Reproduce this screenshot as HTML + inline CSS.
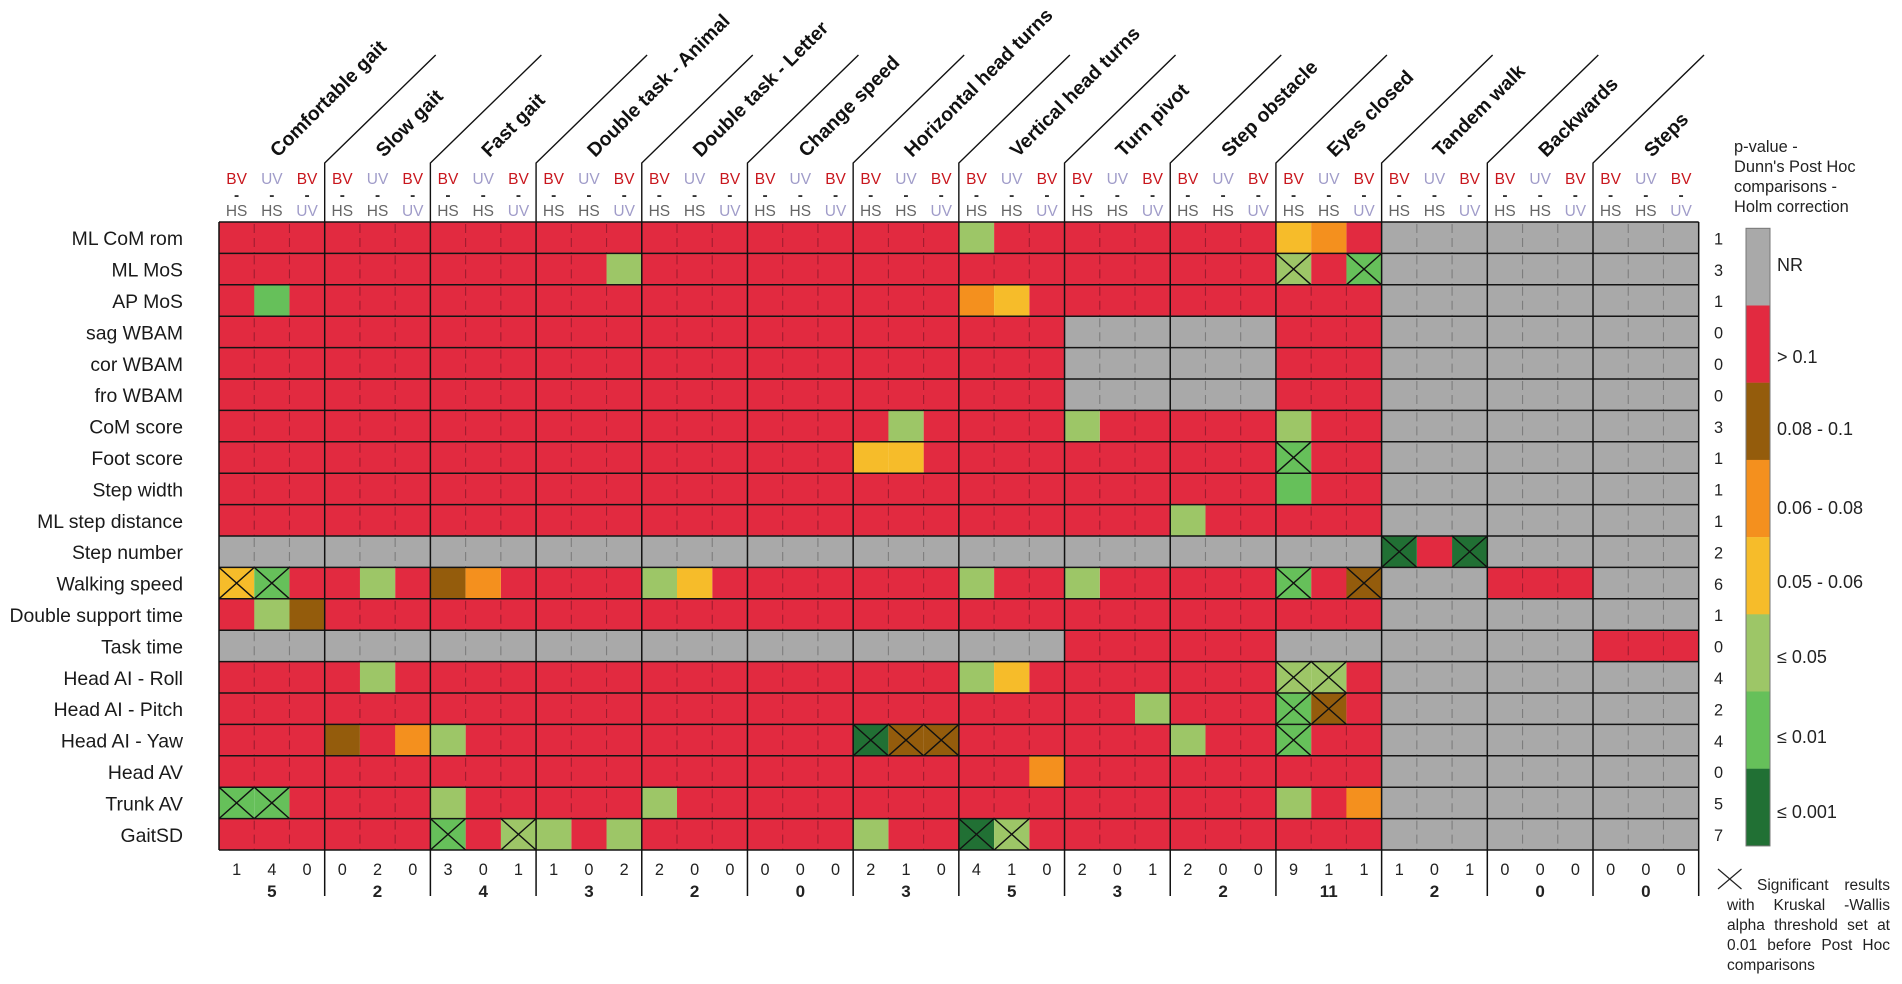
<!DOCTYPE html>
<html lang="en">
<head>
<meta charset="utf-8">
<title>Dunn's post hoc heatmap</title>
<style>
html,body{margin:0;padding:0;background:#fff;width:1902px;height:984px;overflow:hidden}
#stage{position:relative;width:1902px;height:984px;filter:blur(.35px)}
svg{position:absolute;left:0;top:0}
text{font-family:"Liberation Sans",Arial,sans-serif}
#note{position:absolute;left:1727px;top:876px;width:163px;font:15.5px/20px "Liberation Sans",Arial,sans-serif;color:#222}
#note div{text-align:justify;text-align-last:justify;height:20px;white-space:normal}
#note div.first{margin-left:30px}
#note div.last{text-align-last:left}
</style>
</head>
<body>
<div id="stage">
<svg id="chart" width="1902" height="984" viewBox="0 0 1902 984"></svg>
<svg id="legend-text" width="1902" height="984" viewBox="0 0 1902 984">
<g font-size="18" fill="#222">
<text x="1777" y="271">NR</text>
<text x="1777" y="363">&gt; 0.1</text>
<text x="1777" y="435">0.08 - 0.1</text>
<text x="1777" y="514">0.06 - 0.08</text>
<text x="1777" y="588">0.05 - 0.06</text>
<text x="1777" y="663">≤ 0.05</text>
<text x="1777" y="743">≤ 0.01</text>
<text x="1777" y="818">≤ 0.001</text>
</g>
</svg>
<div id="note">
<div class="first">Significant results</div>
<div>with Kruskal -Wallis</div>
<div>alpha threshold set at</div>
<div>0.01 before Post Hoc</div>
<div class="last">comparisons</div>
</div>
</div>
<script>
const rowLabels = ["ML CoM rom","ML MoS","AP MoS","sag WBAM","cor WBAM","fro WBAM","CoM score","Foot score","Step width","ML step distance","Step number","Walking speed","Double support time","Task time","Head AI - Roll","Head AI - Pitch","Head AI - Yaw","Head AV","Trunk AV","GaitSD"];
const groupLabels = ["Comfortable gait","Slow gait","Fast gait","Double task - Animal","Double task - Letter","Change speed","Horizontal head turns","Vertical head turns","Turn pivot","Step obstacle","Eyes closed","Tandem walk","Backwards","Steps"];
const compareTop = ["BV","UV","BV"];
const compareBottom = ["HS","HS","UV"];
const levelColors = ["#a9a9a9","#e22a40","#945c0c","#f4901e","#f6bc2a","#9dc667","#66c05a","#217034"];
// level per row / column: 0 NR, 1 >0.1, 2 0.08-0.1, 3 0.06-0.08, 4 0.05-0.06, 5 <=0.05, 6 <=0.01, 7 <=0.001
const cellLevels = [
[1,1,1, 1,1,1, 1,1,1, 1,1,1, 1,1,1, 1,1,1, 1,1,1, 5,1,1, 1,1,1, 1,1,1, 4,3,1, 0,0,0, 0,0,0, 0,0,0],
[1,1,1, 1,1,1, 1,1,1, 1,1,5, 1,1,1, 1,1,1, 1,1,1, 1,1,1, 1,1,1, 1,1,1, 5,1,6, 0,0,0, 0,0,0, 0,0,0],
[1,6,1, 1,1,1, 1,1,1, 1,1,1, 1,1,1, 1,1,1, 1,1,1, 3,4,1, 1,1,1, 1,1,1, 1,1,1, 0,0,0, 0,0,0, 0,0,0],
[1,1,1, 1,1,1, 1,1,1, 1,1,1, 1,1,1, 1,1,1, 1,1,1, 1,1,1, 0,0,0, 0,0,0, 1,1,1, 0,0,0, 0,0,0, 0,0,0],
[1,1,1, 1,1,1, 1,1,1, 1,1,1, 1,1,1, 1,1,1, 1,1,1, 1,1,1, 0,0,0, 0,0,0, 1,1,1, 0,0,0, 0,0,0, 0,0,0],
[1,1,1, 1,1,1, 1,1,1, 1,1,1, 1,1,1, 1,1,1, 1,1,1, 1,1,1, 0,0,0, 0,0,0, 1,1,1, 0,0,0, 0,0,0, 0,0,0],
[1,1,1, 1,1,1, 1,1,1, 1,1,1, 1,1,1, 1,1,1, 1,5,1, 1,1,1, 5,1,1, 1,1,1, 5,1,1, 0,0,0, 0,0,0, 0,0,0],
[1,1,1, 1,1,1, 1,1,1, 1,1,1, 1,1,1, 1,1,1, 4,4,1, 1,1,1, 1,1,1, 1,1,1, 6,1,1, 0,0,0, 0,0,0, 0,0,0],
[1,1,1, 1,1,1, 1,1,1, 1,1,1, 1,1,1, 1,1,1, 1,1,1, 1,1,1, 1,1,1, 1,1,1, 6,1,1, 0,0,0, 0,0,0, 0,0,0],
[1,1,1, 1,1,1, 1,1,1, 1,1,1, 1,1,1, 1,1,1, 1,1,1, 1,1,1, 1,1,1, 5,1,1, 1,1,1, 0,0,0, 0,0,0, 0,0,0],
[0,0,0, 0,0,0, 0,0,0, 0,0,0, 0,0,0, 0,0,0, 0,0,0, 0,0,0, 0,0,0, 0,0,0, 0,0,0, 7,1,7, 0,0,0, 0,0,0],
[4,6,1, 1,5,1, 2,3,1, 1,1,1, 5,4,1, 1,1,1, 1,1,1, 5,1,1, 5,1,1, 1,1,1, 6,1,2, 0,0,0, 1,1,1, 0,0,0],
[1,5,2, 1,1,1, 1,1,1, 1,1,1, 1,1,1, 1,1,1, 1,1,1, 1,1,1, 1,1,1, 1,1,1, 1,1,1, 0,0,0, 0,0,0, 0,0,0],
[0,0,0, 0,0,0, 0,0,0, 0,0,0, 0,0,0, 0,0,0, 0,0,0, 0,0,0, 1,1,1, 1,1,1, 0,0,0, 0,0,0, 0,0,0, 1,1,1],
[1,1,1, 1,5,1, 1,1,1, 1,1,1, 1,1,1, 1,1,1, 1,1,1, 5,4,1, 1,1,1, 1,1,1, 5,5,1, 0,0,0, 0,0,0, 0,0,0],
[1,1,1, 1,1,1, 1,1,1, 1,1,1, 1,1,1, 1,1,1, 1,1,1, 1,1,1, 1,1,5, 1,1,1, 6,2,1, 0,0,0, 0,0,0, 0,0,0],
[1,1,1, 2,1,3, 5,1,1, 1,1,1, 1,1,1, 1,1,1, 7,2,2, 1,1,1, 1,1,1, 5,1,1, 6,1,1, 0,0,0, 0,0,0, 0,0,0],
[1,1,1, 1,1,1, 1,1,1, 1,1,1, 1,1,1, 1,1,1, 1,1,1, 1,1,3, 1,1,1, 1,1,1, 1,1,1, 0,0,0, 0,0,0, 0,0,0],
[6,6,1, 1,1,1, 5,1,1, 1,1,1, 5,1,1, 1,1,1, 1,1,1, 1,1,1, 1,1,1, 1,1,1, 5,1,3, 0,0,0, 0,0,0, 0,0,0],
[1,1,1, 1,1,1, 6,1,5, 5,1,5, 1,1,1, 1,1,1, 5,1,1, 7,5,1, 1,1,1, 1,1,1, 1,1,1, 0,0,0, 0,0,0, 0,0,0]
];
const crossedCells = [[1,30],[1,32],[7,30],[10,33],[10,35],[11,0],[11,1],[11,30],[11,32],[14,30],[14,31],[15,30],[15,31],[16,18],[16,19],[16,20],[16,30],[18,0],[18,1],[19,6],[19,8],[19,21],[19,22]];
const rowCounts = [1,3,1,0,0,0,3,1,1,1,2,6,1,0,4,2,4,0,5,7];
const columnCounts = [1,4,0, 0,2,0, 3,0,1, 1,0,2, 2,0,0, 0,0,0, 2,1,0, 4,1,0, 2,0,1, 2,0,0, 9,1,1, 1,0,1, 0,0,0, 0,0,0];
const groupTotals = [5,2,4,3,2,0,3,5,3,2,11,2,0,0];
const legendTitle = ["p-value -","Dunn's Post Hoc","comparisons -","Holm correction"];

const gridLeft = 219, gridRight = 1698.7, gridTop = 222, gridBottom = 850;
const colW = (gridRight - gridLeft) / columnCounts.length;
const rowH = (gridBottom - gridTop) / rowLabels.length;
const xCol = c => gridLeft + c * colW;
const yRow = r => gridTop + r * rowH;
const svg = document.getElementById('chart');
const NS = 'http://www.w3.org/2000/svg';
function make(tag, attrs, content) {
  const n = document.createElementNS(NS, tag);
  for (const k in attrs) n.setAttribute(k, attrs[k]);
  if (content !== undefined) n.textContent = content;
  svg.appendChild(n);
  return n;
}
let el;

// base cells (red / grey)
cellLevels.forEach((row, r) => row.forEach((lv, c) => {
  if (lv > 1) return;
  el = make('rect', {x: xCol(c), y: yRow(r), width: colW + .3, height: rowH + .3, fill: levelColors[lv]});
  
  
}));
// dashed separators inside groups
cellLevels.forEach((row, r) => row.forEach((lv, c) => {
  if (c === 0 || c % 3 === 0) return;
  if (lv > 1 || row[c - 1] > 1) return;
  el = make('line', {x1: xCol(c), x2: xCol(c), y1: yRow(r) + 2, y2: yRow(r + 1), stroke: lv === 0 ? '#7d7d7d' : '#a01c30', 'stroke-width': 1.1, 'stroke-dasharray': '9 5'});
  
  
}));
// coloured cells
cellLevels.forEach((row, r) => row.forEach((lv, c) => {
  if (lv <= 1) return;
  el = make('rect', {x: xCol(c), y: yRow(r), width: colW, height: rowH, fill: levelColors[lv]});
  
  
}));
// row lines
for (let r = 0; r <= rowLabels.length; r++) {
  el = make('line', {x1: gridLeft, x2: gridRight, y1: yRow(r), y2: yRow(r), stroke: '#141414', 'stroke-width': 1.5});
  
  
}
// crosses
crossedCells.forEach(p => {
  const x0 = xCol(p[1]), x1 = xCol(p[1] + 1), y0 = yRow(p[0]), y1 = yRow(p[0] + 1);
  el = make('path', {d: `M${x0} ${y0}L${x1} ${y1}M${x0} ${y1}L${x1} ${y0}`, stroke: '#111', 'stroke-width': 1.4, fill: 'none'});
  
  
});
// group boundaries and headers
groupLabels.forEach((label, g) => {
  const gx = xCol(g * 3);
  if (g > 0) {
    el = make('path', {d: `M${gx + 111} 55L${gx} 163L${gx} 222`, stroke: '#111', 'stroke-width': 1.4, fill: 'none'});
    
    
  }
  el = make('line', {x1: gx, x2: gx, y1: 222, y2: g > 0 ? 896 : 850, stroke: '#111', 'stroke-width': 1.5});
  
  
  el = make('text', {transform: `translate(${gx + 59} 158) rotate(-45)`, 'font-size': 19.5, 'font-weight': 700, fill: '#111'}, label);
  
  
  el = make('text', {x: gx + 1.5 * colW, y: 897, 'font-size': 17, 'font-weight': 700, 'text-anchor': 'middle', fill: '#222'}, String(groupTotals[g]));
  
  
});
el = make('line', {x1: gridRight, x2: gridRight, y1: 222, y2: 896, stroke: '#111', 'stroke-width': 1.5});


// column comparison labels and counts
columnCounts.forEach((v, c) => {
  const cx = xCol(c) + colW / 2, k = c % 3;
  const topCol = compareTop[k] === 'BV' ? '#c8161d' : '#a09cc9';
  const botCol = compareBottom[k] === 'HS' ? '#666' : '#a09cc9';
  el = make('text', {x: cx, y: 184, 'font-size': 15.5, 'text-anchor': 'middle', fill: topCol}, compareTop[k]);
  
  
  el = make('text', {x: cx, y: 200, 'font-size': 15.5, 'font-weight': 700, 'text-anchor': 'middle', fill: '#333'}, '-');
  
  
  el = make('text', {x: cx, y: 216, 'font-size': 15.5, 'text-anchor': 'middle', fill: botCol}, compareBottom[k]);
  
  
  el = make('text', {x: cx, y: 875, 'font-size': 16.3, 'text-anchor': 'middle', fill: '#222'}, String(v));
  
  
});
// row labels and counts
rowLabels.forEach((label, r) => {
  const cy = yRow(r) + rowH / 2;
  el = make('text', {x: 183, y: cy + 7.5, 'font-size': 19.4, 'text-anchor': 'end', fill: '#1a1a1a'}, label);
  
  
  el = make('text', {x: 1718.5, y: cy + 6.7, 'font-size': 16.3, 'text-anchor': 'middle', fill: '#222'}, String(rowCounts[r]));
  
  
});
// legend
const legendTop = 228.3, bandH = 77.2, legendX = 1746, legendW = 24;
levelColors.forEach((color, i) => {
  el = make('rect', {x: legendX, y: legendTop + i * bandH, width: legendW, height: bandH + .2, fill: color});
  
  
});
el = make('rect', {x: legendX, y: legendTop, width: legendW, height: bandH * levelColors.length, fill: 'none', stroke: '#777', 'stroke-width': 1});


legendTitle.forEach((line, i) => {
  el = make('text', {x: 1734, y: 152 + i * 20, 'font-size': 16.4, fill: '#222'}, line);
  
  
});
el = make('path', {d: 'M1718 869L1741.5 889M1718 889L1741.5 869', stroke: '#222', 'stroke-width': 1.2, fill: 'none'});


</script>
</body>
</html>
